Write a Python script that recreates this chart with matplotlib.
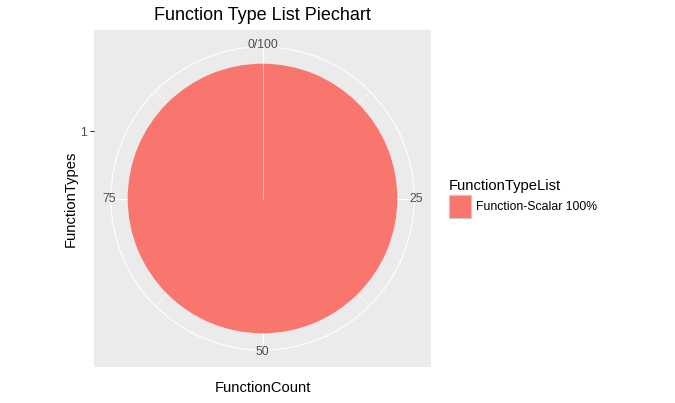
import matplotlib
matplotlib.use("Agg")
import matplotlib.pyplot as plt
from matplotlib.patches import Circle
import numpy as np

# data
categories = ["Function-Scalar 100%"]
counts = [100]
theta_breaks = [0, 25, 50, 75]
theta_labels = ["0/100", "25", "50", "75"]
minor_breaks = [12.5, 37.5, 62.5, 87.5]
radial_ticks = ["1"]

PIE = "#F8766D"
PANEL = "#EBEBEB"
TXT = "#4D4D4D"

plt.rcParams["font.family"] = ["Liberation Sans", "DejaVu Sans"]

W, H = 675, 403
fig = plt.figure(figsize=(W / 100, H / 100), dpi=100)

# panel in pixel coords
px0, py0, pw, ph = 94, 30, 337, 337
ax = fig.add_axes([px0 / W, 1 - (py0 + ph) / H, pw / W, ph / H])

cx, cy = 0.5, 0.5
wedges, _ = ax.pie(counts, center=(cx, cy), radius=0.4, startangle=90,
                   counterclock=False, colors=[PIE],
                   wedgeprops=dict(linewidth=0), labels=None)
for w in wedges:
    w.set_zorder(3)

ax.set_frame_on(True)
ax.set_aspect("auto")
ax.set_xlim(0, 1)
ax.set_ylim(0, 1)
ax.set_facecolor(PANEL)
for s in ax.spines.values():
    s.set_visible(False)


def ang(v):
    return np.deg2rad(90 - v / 100 * 360)


# grid: outer circle and spokes
ax.add_patch(Circle((cx, cy), 0.45, fill=False, ec="white", lw=0.8, zorder=1))
for v in theta_breaks:
    a = ang(v)
    ax.plot([cx, cx + 0.45 * np.cos(a)], [cy, cy + 0.45 * np.sin(a)],
            color="white", lw=0.8, zorder=1)
for v in minor_breaks:
    a = ang(v)
    ax.plot([cx, cx + 0.45 * np.cos(a)], [cy, cy + 0.45 * np.sin(a)],
            color="white", lw=0.4, zorder=1)
# slice seam
ax.plot([cx, cx], [cy, cy + 0.4], color="white", lw=0.5, alpha=0.7, zorder=4)

for v, lab in zip(theta_breaks, theta_labels):
    a = ang(v)
    ax.text(cx + 0.455 * np.cos(a), cy + 0.455 * np.sin(a), lab,
            ha="center", va="center", fontsize=8.8, color=TXT, zorder=5)

# radial axis (factor position 1 at middle of bar)
ax.set_xticks([])
ax.set_yticks([cy + 0.2], radial_ticks)
ax.tick_params(axis="y", length=3, width=0.8, color="#333333",
               labelsize=8.8, labelcolor=TXT, pad=2)

ax.set_xlabel("FunctionCount", fontsize=10.6, labelpad=10)
ax.set_ylabel("FunctionTypes", fontsize=10.6, labelpad=2)
ax.set_title("Function Type List Piechart", fontsize=13, pad=7)

leg = fig.legend(wedges, categories, title="FunctionTypeList",
                 loc="upper left", bbox_to_anchor=(449 / W, 1 - 179 / H),
                 frameon=False, fontsize=8.8, title_fontsize=10.6,
                 handlelength=1.8, handleheight=2.4, handletextpad=0.4,
                 labelspacing=0.2, borderaxespad=0, borderpad=0,
                 alignment="left")
for p in leg.get_patches():
    p.set_edgecolor("#C8C8C8")
    p.set_linewidth(0.8)

fig.savefig("out.png", dpi=100)
